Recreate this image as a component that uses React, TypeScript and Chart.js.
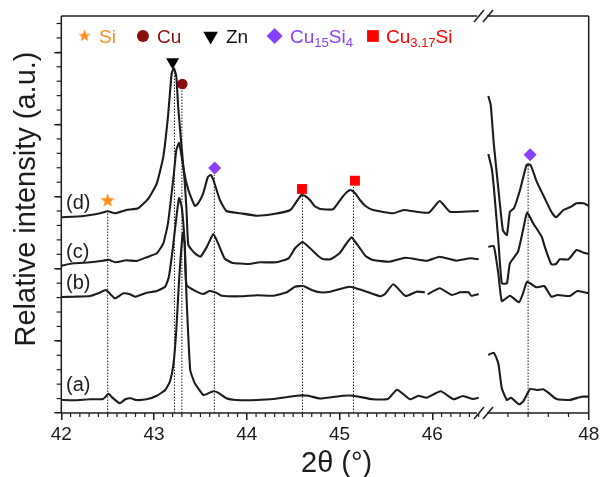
import { useEffect, useRef } from "react"
import { Chart, registerables } from "chart.js"

Chart.register(...registerables)

const SANS = '"Liberation Sans", Arial, sans-serif'
const INK = "#1c1c1c"
const ORANGE = "#ff8c1a"
const DARK_RED = "#8b0e0e"
const PURPLE = "#8a3ffc"
const RED = "#ff0000"

// y axis is in arbitrary units, one major tick every 72.13
const yMax = 397
const yMajorTicks = [0, 72.13, 144.26, 216.39, 288.52, 360.65]
const yMinorStep = 14.426
const xLabelTicks = [42, 43, 44, 45, 46]
const xMinorTicks = [
  42.1, 42.2, 42.3, 42.4, 42.5, 42.6, 42.7, 42.8, 42.9, 43.1, 43.2, 43.3, 43.4, 43.5, 43.6, 43.7, 43.8, 43.9, 44.1,
  44.2, 44.3, 44.4, 44.5, 44.6, 44.7, 44.8, 44.9, 45.1, 45.2, 45.3, 45.4, 45.5, 45.6, 45.7, 45.8, 45.9, 46.1, 46.2,
  46.3, 46.4, 46.5,
]
const xMinorTicksRight = [47.2, 47.4, 47.6, 47.8]

// sample (a)
const aX = [
  42, 42.13, 42.31, 42.45, 42.51, 42.54, 42.63, 42.69, 42.75, 42.81, 42.92, 43.03, 43.12, 43.17, 43.21, 43.24, 43.27,
  43.31, 43.33, 43.35, 43.39, 43.44, 43.53, 43.57, 43.64, 43.69, 43.78, 43.89, 44.11, 44.29, 44.54, 44.66, 44.79, 45.04,
  45.15, 45.36, 45.52, 45.62, 45.76, 45.85, 45.94, 46.09, 46.23, 46.33, 46.44, 46.5,
]
const aY = [
  13, 12.7, 13.7, 14, 19.3, 16.3, 9.7, 13.7, 14.7, 13, 13.7, 17.3, 23, 31.3, 49.7, 83, 133, 180, 170, 116, 43, 29.7, 18,
  19, 21.7, 20.3, 14.7, 13, 13, 14, 17.3, 17.3, 14.5, 17.3, 17.3, 13.7, 14, 23.3, 13.7, 17.3, 15.3, 21.7, 13.7, 17, 14,
  15.3,
]
const aRightX = [47.006, 47.06, 47.105, 47.14, 47.19, 47.23, 47.31, 47.35, 47.42, 47.485, 47.55, 47.6, 47.68, 47.81, 47.93, 48]
const aRightY = [58, 60.3, 49.7, 24.7, 13, 15.3, 8.7, 11.3, 24, 23, 23.7, 20.3, 14, 13, 16.3, 16.3]

// sample (b), its trace has a small gap near 45.93
const bX = [
  42, 42.13, 42.31, 42.4, 42.48, 42.52, 42.58, 42.67, 42.74, 42.8, 42.92, 43.03, 43.12, 43.16, 43.2, 43.24, 43.27, 43.3,
  43.33, 43.35, 43.46, 43.53, 43.6, 43.67, 43.73, 43.93, 44.11, 44.29, 44.43, 44.52, 44.61, 44.7, 44.79, 44.9, 45.11,
  45.26, 45.44, 45.49, 45.58, 45.71, 45.83, 45.92,
]
const bY = [
  116, 116.3, 117, 119.7, 123, 119.7, 114.7, 119.7, 118.7, 116.3, 120.3, 122, 126.3, 136.3, 163, 195, 215, 205, 170, 128,
  121.3, 119, 122, 120.3, 117.3, 116.7, 117.7, 117.3, 120.7, 126.3, 127, 123, 120.7, 121.3, 126.3, 122.3, 116.7, 119,
  128.7, 117, 121.3, 120.7,
]
const bEndX = [45.95, 46.08, 46.21, 46.3, 46.39, 46.42, 46.5]
const bEndY = [118.7, 124.7, 118, 120.7, 120.7, 117.3, 119]
const bRightX = [47.006, 47.06, 47.105, 47.14, 47.22, 47.31, 47.35, 47.39, 47.48, 47.56, 47.63, 47.69, 47.81, 47.89, 48]
const bRightY = [166.3, 167, 139.7, 112, 117.3, 110.7, 119.7, 131.3, 125.7, 127, 116.3, 118, 117, 122, 119.7]

// sample (c)
const cX = [
  42, 42.13, 42.31, 42.45, 42.51, 42.58, 42.7, 42.81, 42.92, 43.03, 43.1, 43.15, 43.21, 43.24, 43.27, 43.32, 43.35, 43.37,
  43.44, 43.5, 43.57, 43.64, 43.69, 43.76, 43.84, 44.02, 44.14, 44.32, 44.45, 44.52, 44.6, 44.68, 44.77, 44.82, 44.9, 45,
  45.07, 45.13, 45.17, 45.22, 45.28, 45.36, 45.54, 45.71, 45.94, 46.08, 46.26, 46.41, 46.5,
]
const cY = [
  147.3, 149.7, 150.7, 152.3, 153.3, 150.7, 152.7, 152, 155.7, 159.7, 169.7, 189.7, 236, 263, 270, 243, 203, 168, 159.7,
  156.3, 166.3, 179, 169.7, 154.7, 150.3, 149, 150.7, 150.7, 154.7, 164.7, 171, 165, 157, 154, 153.7, 159.7, 169, 175.7,
  171, 164.7, 157, 153, 151.3, 155.3, 152.3, 156.3, 152.3, 154.7, 153.7,
]
const cRightX = [
  47.006, 47.04, 47.06, 47.105, 47.14, 47.19, 47.22, 47.3, 47.35, 47.39, 47.45, 47.535, 47.565, 47.63, 47.676, 47.715, 47.8,
  47.88, 47.95, 48,
]
const cRightY = [
  259, 244.7, 226.3, 173, 129.7, 129.7, 149.7, 161.3, 183, 200.3, 189.7, 176.3, 166.3, 148.7, 149, 153.7, 153.7, 163, 160.3,
  159,
]

// sample (d)
const dX = [
  42, 42.24, 42.42, 42.5, 42.58, 42.7, 42.83, 42.94, 43.03, 43.1, 43.15, 43.19, 43.215, 43.24, 43.26, 43.3, 43.32, 43.37,
  43.44, 43.475, 43.53, 43.58, 43.61, 43.64, 43.71, 43.78, 43.93, 44.11, 44.29, 44.47, 44.54, 44.59, 44.63, 44.68, 44.73,
  44.79, 44.93, 45.02, 45.08, 45.12, 45.17, 45.22, 45.28, 45.36, 45.58, 45.69, 45.96, 46.08, 46.19, 46.5,
]
const dY = [
  195.7, 197, 199.7, 201.7, 199.7, 203, 204.7, 214.7, 229.7, 256.3, 296.3, 339.7, 344.7, 336.3, 306.3, 263, 243, 223, 207,
  209.7, 219.7, 236, 238, 233, 213, 202, 199.7, 197.3, 199, 203, 212, 218, 217, 213, 207, 204, 203.7, 214.7, 221, 223,
  219.5, 213, 207, 203, 199.7, 203, 200.3, 212, 201.3, 202,
]
const dRightX = [
  47.006, 47.03, 47.06, 47.1, 47.15, 47.19, 47.22, 47.26, 47.32, 47.385, 47.425, 47.485, 47.565, 47.63, 47.676, 47.75,
  47.815, 47.88, 47.95, 48,
]
const dRightY = [
  317, 308, 269.7, 229.7, 183, 178, 201.3, 204.7, 223, 248, 248, 231.3, 214.7, 201.3, 195.7, 203, 205.7, 209.7, 209.7, 207,
]

// reference peak positions and how high their dotted guide reaches
const guideX = [42.5, 43.22, 43.3, 43.65, 44.6, 45.15, 47.4]
const guideTop = [203, 345, 323, 238, 218, 226, 250]

// phase markers, the first entry of each is the one in the key at the top
const siMarkX = [42.25, 42.5]
const siMarkY = [377, 212.3]
const cuMarkX = [42.88, 43.305]
const cuMarkY = [377, 329]
const znMarkX = [43.61, 43.2]
const znMarkY = [377, 351]
const cu15MarkX = [44.3, 43.654, 47.42]
const cu15MarkY = [377, 245, 258.3]
const cu3MarkX = [45.36, 44.595, 45.166]
const cu3MarkY = [377, 224, 232.3]

// the stretch after the axis break runs 47 to 48 at a slightly wider scale
const axisEnd = 47.686
const rightStretch = 101 / 92.75
const breakedX = (t: number) => (t > 46.6 ? axisEnd - (48 - t) * rightStretch : t)

const points = (xs: number[], ys: number[]) => xs.map((x, i) => ({ x: breakedX(x), y: ys[i] }))

const trace = (xs: number[], ys: number[]) => ({
  data: points(xs, ys),
  showLine: true,
  borderColor: INK,
  borderWidth: 2.1,
  pointRadius: 0,
  tension: 0.15,
})

const guide = (i: number) => ({
  data: points([guideX[i], guideX[i]], [0, guideTop[i]]),
  showLine: true,
  borderColor: INK,
  borderWidth: 1,
  borderDash: [1.5, 1.5],
  pointRadius: 0,
})

function makeStar(color: string, size: number) {
  const canvas = document.createElement("canvas")
  canvas.width = size
  canvas.height = size
  const ctx = canvas.getContext("2d")
  if (ctx) {
    ctx.fillStyle = color
    ctx.beginPath()
    for (let i = 0; i < 10; i++) {
      const r = i % 2 === 0 ? size / 2 : size / 5
      const a = (i * Math.PI) / 5 - Math.PI / 2
      ctx.lineTo(size / 2 + r * Math.cos(a), size / 2 + r * Math.sin(a))
    }
    ctx.closePath()
    ctx.fill()
  }
  return canvas
}

type Run = [string, string, string, number?]

function drawRuns(ctx: CanvasRenderingContext2D, x: number, y: number, runs: Run[]) {
  let cursor = x
  runs.forEach(([text, font, color, shift]) => {
    ctx.font = font
    ctx.fillStyle = color
    ctx.fillText(text, cursor, y + (shift || 0))
    cursor += ctx.measureText(text).width
  })
}

const annotations = {
  id: "annotations",
  afterDatasetsDraw(chart: any) {
    const { ctx, chartArea, scales } = chart
    const { left, right, top, bottom } = chartArea
    ctx.save()
    ctx.strokeStyle = INK
    ctx.lineWidth = 1.5

    const line = (x1: number, y1: number, x2: number, y2: number) => {
      ctx.beginPath()
      ctx.moveTo(x1, y1)
      ctx.lineTo(x2, y2)
      ctx.stroke()
    }

    // frame with the axis break
    const breakLeft = 477
    const breakRight = 487
    line(left, top, left, bottom)
    line(right, top, right, bottom)
    line(left, top, breakLeft, top)
    line(breakRight, top, right, top)
    line(left, bottom, breakLeft, bottom)
    line(breakRight, bottom, right, bottom)
    for (const yy of [top, bottom]) {
      line(breakLeft - 3, yy + 6, breakLeft + 7, yy - 6)
      line(breakRight - 4, yy + 6, breakRight + 6, yy - 6)
    }

    // minor ticks
    ctx.lineWidth = 1.2
    for (const t of [...xMinorTicks, ...xMinorTicksRight]) {
      const px = scales.x.getPixelForValue(breakedX(t))
      line(px, bottom, px, bottom + 4)
    }
    for (let v = yMinorStep; v < yMax; v += yMinorStep) {
      const py = scales.y.getPixelForValue(v)
      line(left - 4.7, py, left, py)
    }

    ctx.textBaseline = "alphabetic"
    ctx.textAlign = "left"

    // phase key
    const key = `19px ${SANS}`
    const sub = `13px ${SANS}`
    drawRuns(ctx, 99, 43, [["Si", key, ORANGE]])
    drawRuns(ctx, 157, 43, [["Cu", key, DARK_RED]])
    drawRuns(ctx, 226, 43, [["Zn", key, "#111111"]])
    drawRuns(ctx, 290, 43, [
      ["Cu", key, PURPLE],
      ["15", sub, PURPLE, 4],
      ["Si", key, PURPLE],
      ["4", sub, PURPLE, 4],
    ])
    drawRuns(ctx, 386, 43, [
      ["Cu", key, RED],
      ["3.17", sub, RED, 4],
      ["Si", key, RED],
    ])

    // sample labels
    ctx.font = `20px ${SANS}`
    ctx.fillStyle = INK
    ctx.fillText("(d)", 66, 209)
    ctx.fillText("(c)", 66, 258)
    ctx.fillText("(b)", 66, 289)
    ctx.fillText("(a)", 66, 391)

    // axis titles
    ctx.font = `29px ${SANS}`
    ctx.fillText("2θ (°)", 301, 472)
    ctx.translate(35, 199)
    ctx.rotate(-Math.PI / 2)
    ctx.textAlign = "center"
    ctx.fillText("Relative intensity (a.u.)", 0, 0)
    ctx.restore()
  },
}

export default function App() {
  const chartRef = useRef<HTMLCanvasElement>(null)
  const chartInstance = useRef<Chart | null>(null)

  useEffect(() => {
    if (!chartRef.current) return

    const ctx = chartRef.current.getContext("2d")
    if (!ctx) return

    const mark = (xs: number[], ys: number[], style: any, color: string, radii: number[], rotation = 0) => ({
      data: points(xs, ys),
      showLine: false,
      pointStyle: style,
      pointRotation: rotation,
      pointRadius: radii,
      pointBackgroundColor: color,
      pointBorderColor: color,
      pointBorderWidth: 0,
      clip: false as const,
    })

    chartInstance.current = new Chart(ctx, {
      type: "scatter",
      data: {
        datasets: [
          ...guideX.map((_, i) => guide(i)),
          trace(aX, aY),
          trace(aRightX, aRightY),
          trace(bX, bY),
          trace(bEndX, bEndY),
          trace(bRightX, bRightY),
          trace(cX, cY),
          trace(cRightX, cRightY),
          trace(dX, dY),
          trace(dRightX, dRightY),
          mark(siMarkX, siMarkY, [makeStar(ORANGE, 13), makeStar(ORANGE, 15)], ORANGE, [7, 8]),
          mark(cuMarkX, cuMarkY, "circle", DARK_RED, [6, 5.3]),
          mark(znMarkX, znMarkY, "triangle", "#000000", [8.5, 7.5], 180),
          mark(cu15MarkX, cu15MarkY, "rectRot", PURPLE, [8, 6.5, 6.5]),
          mark(cu3MarkX, cu3MarkY, "rect", RED, [8.3, 7, 7]),
        ] as any,
      },
      plugins: [annotations],
      options: {
        animation: false,
        responsive: false,
        layout: { padding: { top: 16, right: 11.3, left: 0, bottom: 0 } },
        plugins: {
          legend: { display: false },
          tooltip: { enabled: false },
        },
        scales: {
          x: {
            type: "linear",
            min: 42,
            max: axisEnd,
            afterFit: (scale: any) => {
              scale.height = 64
              scale.paddingLeft = 0
              scale.paddingRight = 0
            },
            afterBuildTicks: (scale: any) => {
              scale.ticks = [...xLabelTicks, axisEnd].map((value) => ({ value }))
            },
            border: { display: false },
            grid: { drawOnChartArea: false, tickLength: 7, color: INK, lineWidth: 1.5 },
            ticks: {
              autoSkip: false,
              maxRotation: 0,
              padding: 3,
              color: INK,
              font: { family: SANS, size: 19 },
              callback: (value: any) => (value > 47 ? "48" : String(value)),
            },
          },
          y: {
            type: "linear",
            min: 0,
            max: yMax,
            afterFit: (scale: any) => {
              scale.width = 61.3
              scale.paddingTop = 0
              scale.paddingBottom = 0
            },
            afterBuildTicks: (scale: any) => {
              scale.ticks = yMajorTicks.map((value) => ({ value }))
            },
            border: { display: false },
            grid: { drawOnChartArea: false, tickLength: 7, color: INK, lineWidth: 1.5 },
            ticks: { callback: () => "" },
          },
        },
      },
    })

    return () => {
      if (chartInstance.current) {
        chartInstance.current.destroy()
      }
    }
  }, [])

  return (
    <div style={{ position: "absolute", left: 0, top: 0, width: 600, height: 477, background: "#fff" }}>
      <canvas ref={chartRef} width={600} height={477} style={{ display: "block" }}></canvas>
    </div>
  )
}
